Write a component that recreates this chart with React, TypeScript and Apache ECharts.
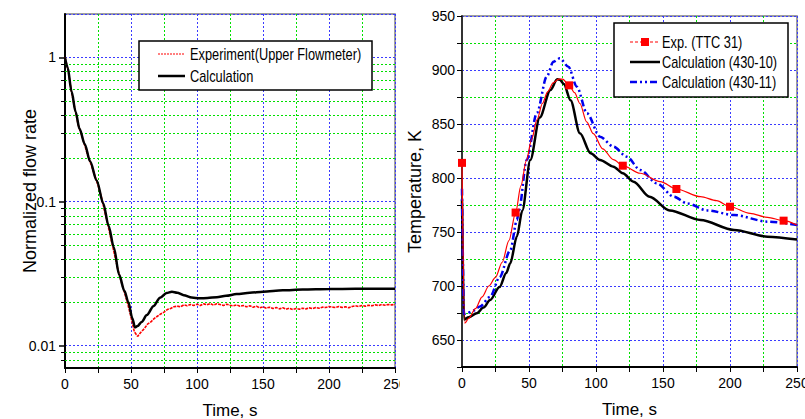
import React, { useEffect, useRef } from "react";
import * as echarts from "echarts";

const FONT = '"Liberation Sans", Arial, sans-serif';

// ---------- Left chart: normalized flow rate ----------
const flowExpTimes = [
  0, 2.5, 5, 7.5, 10, 12.5, 15, 17.5, 20, 22.5, 25, 27.5, 30, 32.5, 35, 37.5, 40, 42.5, 45, 47.5,
  50, 52.5, 55, 57.5, 60, 62.5, 65, 67.5, 70, 72.5, 75, 77.5, 80, 82.5, 85, 87.5, 90, 92.5, 95, 97.5,
  100, 102.5, 105, 107.5, 110, 112.5, 115, 117.5, 120, 122.5, 125, 127.5, 130, 132.5, 135, 137.5,
  140, 142.5, 145, 147.5, 150, 152.5, 155, 157.5, 160, 162.5, 165, 167.5, 170, 172.5, 175, 177.5,
  180, 182.5, 185, 187.5, 190, 192.5, 195, 197.5, 200, 202.5, 205, 207.5, 210, 212.5, 215, 217.5,
  220, 222.5, 225, 227.5, 230, 232.5, 235, 237.5, 240, 242.5, 245, 247.5, 250,
];
const flowExperiment = [
  1.0, 0.8, 0.57, 0.44, 0.34, 0.29, 0.245, 0.205, 0.178, 0.152, 0.13, 0.108, 0.086, 0.069, 0.054, 0.043, 0.034, 0.028, 0.0235, 0.0195,
  0.0158, 0.0125, 0.0116, 0.0124, 0.0131, 0.0141, 0.0146, 0.0154, 0.016, 0.0166, 0.0171, 0.0178, 0.0181, 0.0186, 0.0188, 0.0186, 0.0192, 0.0189, 0.0193, 0.019,
  0.0194, 0.019, 0.0195, 0.0192, 0.0196, 0.0191, 0.0195, 0.0193, 0.019, 0.0194, 0.0191, 0.0189, 0.0192, 0.0188, 0.019, 0.0186,
  0.0189, 0.0185, 0.0188, 0.0183, 0.0186, 0.0182, 0.0185, 0.0181, 0.0184, 0.018, 0.0183, 0.0179, 0.0182, 0.0178, 0.0181, 0.0179,
  0.0182, 0.018, 0.0183, 0.0181, 0.0184, 0.0182, 0.0185, 0.0184, 0.0187, 0.0185, 0.0184, 0.0187, 0.0184, 0.0186, 0.0183, 0.0187,
  0.0189, 0.0187, 0.019, 0.0188, 0.0191, 0.0189, 0.0192, 0.019, 0.0193, 0.0191, 0.0193, 0.0192, 0.0193,
];
const flowCalcTimes = [
  0, 2, 5, 8, 11, 15, 19, 24, 29, 33, 37, 41, 45, 48, 51, 53, 55, 58, 62, 67, 72, 77, 81, 85, 90, 96,
  102, 108, 115, 122, 130, 140, 150, 165, 180, 200, 220, 250,
];
const flowCalculation = [
  1.0, 0.85, 0.58, 0.42, 0.32, 0.25, 0.19, 0.14, 0.097, 0.068, 0.048, 0.031, 0.024, 0.02, 0.0155, 0.0134, 0.0137, 0.0146, 0.0163, 0.0188, 0.0215, 0.0232, 0.0237, 0.0233, 0.0224, 0.0216,
  0.0213, 0.0214, 0.0217, 0.0222, 0.0228, 0.0233, 0.0237, 0.0242, 0.0245, 0.0247, 0.0248, 0.0248,
];
const flowMinorGrid = [0.008, 0.009, 0.02, 0.03, 0.04, 0.05, 0.06, 0.07, 0.08, 0.09, 0.2, 0.3, 0.4, 0.5, 0.6, 0.7, 0.8, 0.9];
const flowSeriesNames = ["Experiment(Upper Flowmeter)", "Calculation"];

// ---------- Right chart: temperature ----------
const tempExpTimes = [
  0, 2, 5, 10, 15, 20, 25, 30, 35, 40, 44, 48, 52, 56, 60, 64, 68, 72, 75, 80, 84, 88, 93, 98, 105, 113,
  120, 133, 148, 160, 178, 190, 200, 215, 228, 240, 250,
];
const tempExp = [
  814, 665.5, 670, 679, 690, 700, 708, 722, 742, 768, 793, 816, 836, 854, 869, 880, 888, 891.5, 891.5, 885.8, 879, 869, 852, 841, 827, 817,
  811.4, 804.4, 796.6, 789.8, 782.7, 779, 773.4, 767.3, 763.5, 760.5, 756.5,
];
const tempExpMarkerTimes = [0, 40, 80, 120, 160, 200, 240];

const tempCalc10Times = [
  0, 1.5, 5, 11, 16, 21, 28, 33, 36, 41, 45, 51, 58, 66, 71, 73, 76, 81, 88, 96, 103, 113, 120, 128, 140, 155, 178, 203, 228, 250,
];
const tempCalc10 = [
  780, 669, 671, 674.7, 680, 687, 699, 712, 721, 746, 770, 816.7, 856, 881.5, 891.4, 891, 887, 872, 841.4, 822.9, 816.7, 810.5, 804.4, 796.6, 782.7, 770, 761.1, 751.9, 745.7, 743,
];
const tempCalc11Times = [
  0, 1.5, 3.5, 8, 13.4, 21, 28, 36, 41, 42.5, 48.3, 55.8, 63.3, 68.2, 73, 79.4, 85.7, 93.2, 103, 113, 123, 133, 145.5, 158, 168, 183, 203, 228, 250,
];
const tempCalc11 = [
  790, 674, 674.7, 677, 681, 690, 708, 733, 761, 770, 816.7, 860, 894, 907.7, 910.8, 903, 884.6, 860, 838.3, 829, 819.7, 807.4, 795, 782.7, 776.5, 770, 765.7, 759.6, 756.5,
];
const tempSeriesNames = ["Exp. (TTC 31)", "Calculation (430-10)", "Calculation (430-11)"];

const zip = (xs: number[], ys: number[]) => xs.map((x, i) => [x, ys[i]]);

const BLUE = "#3a3aff";
const GREEN = "#00e000";
const RED = "#ff0000";
const CALC_BLUE = "#0000ee";
const BLUE_DASH = [7, 3, 2, 3, 2, 3];
const DOT = [2, 2];

function timeAxis() {
  return {
    type: "value",
    min: 0,
    max: 250,
    interval: 25,
    name: "Time, s",
    nameLocation: "middle",
    nameGap: 34,
    nameMoveOverlap: false,
    nameTextStyle: { fontSize: 17, fontFamily: FONT, color: "#000" },
    axisLine: { show: true, onZero: false, lineStyle: { color: "#000", width: 2 } },
    axisTick: { show: true, inside: false, length: 5, lineStyle: { color: "#000", width: 1 } },
    axisLabel: {
      fontSize: 14,
      fontFamily: FONT,
      color: "#000",
      margin: 9,
      formatter: (v: number) => (v % 50 === 0 ? String(v) : ""),
    },
    splitLine: { show: true, lineStyle: { color: [BLUE, GREEN], type: DOT, width: 1, opacity: 1 } },
  };
}

function legendText(text: string, x: number, y: number) {
  return {
    type: "text",
    z: 11,
    x,
    y,
    scaleX: 0.8,
    style: { text, fontSize: 16, fontFamily: FONT, fill: "#000", align: "left", verticalAlign: "middle" },
  };
}

function legendLine(x1: number, x2: number, y: number, stroke: string, lineWidth: number, lineDash?: number[]) {
  return {
    type: "line",
    z: 11,
    shape: { x1, y1: y, x2, y2: y },
    style: { stroke, lineWidth, lineDash: lineDash || null },
  };
}

function buildLeft(): any {
  return {
    animation: false,
    backgroundColor: "#fff",
    grid: {
      left: 65, top: 14, width: 330, height: 354,
      outerBoundsMode: "none", containLabel: false,
      show: true, borderColor: "#808080", borderWidth: 1.5, backgroundColor: "transparent",
    },
    xAxis: timeAxis(),
    yAxis: {
      type: "log",
      logBase: 10,
      min: 0.007,
      max: 2,
      name: "Normalized flow rate",
      nameLocation: "middle",
      nameGap: 26,
      nameMoveOverlap: false,
      nameTextStyle: { fontSize: 18, fontFamily: FONT, color: "#000" },
      axisLine: { show: true, lineStyle: { color: "#000", width: 2 } },
      axisTick: { show: true, length: 6, lineStyle: { color: "#000", width: 1.5 } },
      axisLabel: {
        showMinLabel: false,
        showMaxLabel: false,
        fontSize: 14,
        fontFamily: FONT,
        color: "#000",
        margin: 9,
        formatter: (v: number) => String(Number(v.toPrecision(6))),
      },
      splitLine: { show: true, lineStyle: { color: BLUE, type: DOT, width: 1, opacity: 1 } },
    },
    graphic: [
      {
        id: "lg-box",
        type: "rect",
        z: 10,
        shape: { x: 139, y: 41, width: 233, height: 49 },
        style: { fill: "#fff", stroke: "#000", lineWidth: 1.5 },
      },
      { id: "lg-l1", ...legendLine(158, 185, 54, RED, 1.2, [2, 1]) },
      { id: "lg-t1", ...legendText(flowSeriesNames[0], 190, 54) },
      { id: "lg-l2", ...legendLine(158, 185, 76, "#000", 2.5) },
      { id: "lg-t2", ...legendText(flowSeriesNames[1], 190, 76) },
    ],
    series: [
      {
        name: flowSeriesNames[0],
        type: "line",
        data: zip(flowExpTimes, flowExperiment),
        symbol: "none",
        showSymbol: false,
        lineStyle: { color: RED, width: 1.6, type: [3, 1] },
        itemStyle: { color: RED },
        z: 3,
      },
      {
        name: flowSeriesNames[1],
        type: "line",
        data: zip(flowCalcTimes, flowCalculation),
        smooth: 0.3,
        smoothMonotone: "x",
        symbol: "none",
        showSymbol: false,
        lineStyle: { color: "#000", width: 2.5 },
        itemStyle: { color: "#000" },
        z: 4,
      },
    ],
  };
}

// minor grid lines and ticks of the log axis, placed with the chart's own scales
function afterLeft(chart: any) {
  const x0 = chart.convertToPixel({ xAxisIndex: 0 }, 0);
  const x1 = chart.convertToPixel({ xAxisIndex: 0 }, 250);
  const items: any[] = [];
  flowMinorGrid.forEach((v, i) => {
    const y = Math.round(chart.convertToPixel({ yAxisIndex: 0 }, v)) + 0.5;
    items.push({
      id: "mg-" + i,
      type: "line",
      z: 1,
      silent: true,
      shape: { x1: x0, y1: y, x2: x1, y2: y },
      style: { stroke: GREEN, lineWidth: 1, lineDash: DOT },
    });
    items.push({
      id: "mt-" + i,
      type: "line",
      z: 6,
      silent: true,
      shape: { x1: x0 - 4, y1: y, x2: x0, y2: y },
      style: { stroke: "#000", lineWidth: 1 },
    });
  });
  chart.setOption({ graphic: items });
}

function buildRight(): any {
  const expData = tempExpTimes.map((t, i) =>
    tempExpMarkerTimes.includes(t) ? { value: [t, tempExp[i]] } : { value: [t, tempExp[i]], symbol: "none" }
  );
  return {
    animation: false,
    backgroundColor: "#fff",
    grid: {
      left: 62, top: 16, width: 335, height: 351,
      outerBoundsMode: "none", containLabel: false,
      show: true, borderColor: "#808080", borderWidth: 1.5, backgroundColor: "transparent",
    },
    xAxis: timeAxis(),
    yAxis: {
      type: "value",
      min: 625,
      max: 950,
      interval: 25,
      name: "Temperature, K",
      nameLocation: "middle",
      nameGap: 38,
      nameMoveOverlap: false,
      nameTextStyle: { fontSize: 18, fontFamily: FONT, color: "#000" },
      axisLine: { show: true, lineStyle: { color: "#333", width: 2 } },
      axisTick: { show: true, length: 5, lineStyle: { color: "#000" } },
      axisLabel: {
        fontSize: 14,
        fontFamily: FONT,
        color: "#000",
        margin: 7,
        formatter: (v: number) => (v % 50 === 0 ? String(v) : ""),
      },
      splitLine: { show: true, lineStyle: { color: [GREEN, BLUE], type: DOT, width: 1, opacity: 1 } },
    },
    graphic: [
      {
        type: "rect",
        z: 10,
        shape: { x: 214, y: 23, width: 174, height: 74 },
        style: { fill: "#fff", stroke: "#000", lineWidth: 1.5 },
      },
      legendLine(230, 260, 42, RED, 1.2, [3, 2]),
      { type: "rect", z: 11, shape: { x: 241, y: 38, width: 8, height: 8 }, style: { fill: RED } },
      legendText(tempSeriesNames[0], 262, 42),
      legendLine(230, 260, 62, "#000", 2.5),
      legendText(tempSeriesNames[1], 262, 62),
      legendLine(230, 260, 82, CALC_BLUE, 2.5, BLUE_DASH),
      legendText(tempSeriesNames[2], 262, 82),
    ],
    series: [
      {
        name: tempSeriesNames[0],
        type: "line",
        data: expData,
        smooth: 0.3,
        smoothMonotone: "x",
        symbol: "rect",
        symbolSize: 8,
        showSymbol: true,
        lineStyle: { color: RED, width: 1.2 },
        itemStyle: { color: RED },
        z: 4,
      },
      {
        name: tempSeriesNames[1],
        type: "line",
        data: zip(tempCalc10Times, tempCalc10),
        smooth: 0.3,
        smoothMonotone: "x",
        symbol: "none",
        showSymbol: false,
        lineStyle: { color: "#000", width: 2.5 },
        itemStyle: { color: "#000" },
        z: 3,
      },
      {
        name: tempSeriesNames[2],
        type: "line",
        data: zip(tempCalc11Times, tempCalc11),
        smooth: 0.3,
        smoothMonotone: "x",
        symbol: "none",
        showSymbol: false,
        lineStyle: { color: CALC_BLUE, width: 2.5, type: BLUE_DASH },
        itemStyle: { color: CALC_BLUE },
        z: 3,
      },
    ],
  };
}

function Chart({ left, width, build, after }: { left: number; width: number; build: () => any; after?: (c: any) => void }) {
  const ref = useRef<HTMLDivElement>(null);
  useEffect(() => {
    if (!ref.current) return;
    const chart = echarts.init(ref.current, null, { renderer: "svg" });
    chart.setOption(build());
    if (after) after(chart);
    return () => chart.dispose();
  }, [build, after]);
  return (
    <div
      ref={ref}
      style={{ position: "absolute", left, top: 0, width, height: 419, overflow: "hidden" }}
    />
  );
}

export default function App() {
  return (
    <div style={{ position: "fixed", left: 0, top: 0, width: 805, height: 419, background: "#fff", overflow: "hidden" }}>
      <Chart left={0} width={400} build={buildLeft} after={afterLeft} />
      <Chart left={400} width={405} build={buildRight} />
    </div>
  );
}
